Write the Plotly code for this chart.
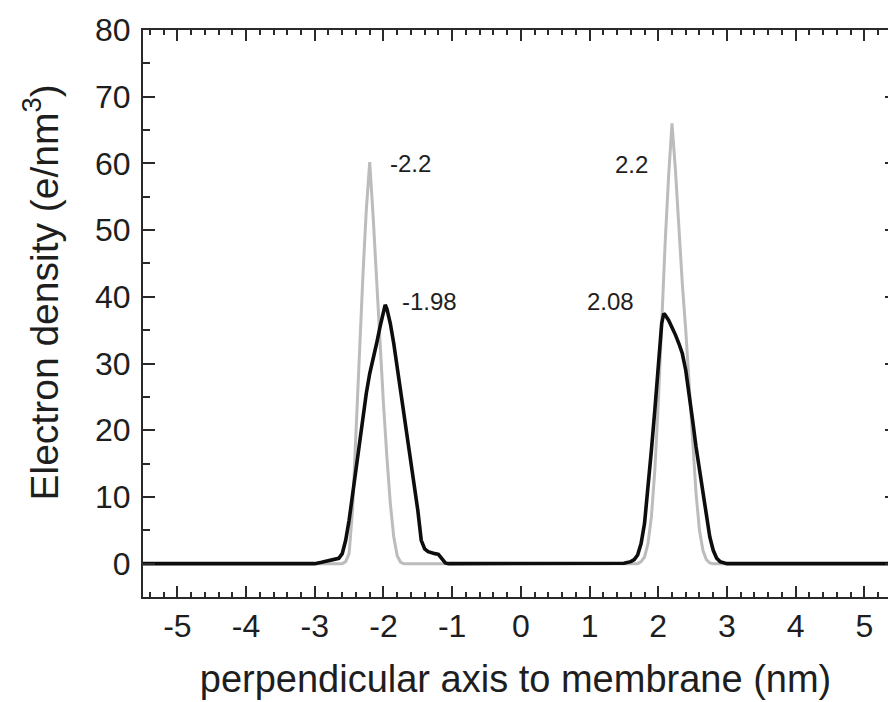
import plotly.graph_objects as go

# ---- data ----
gray_x = [-5.5, -2.60, -2.55, -2.50, -2.45, -2.40, -2.35, -2.30, -2.25, -2.20, -2.15, -2.10,
          -2.05, -2.00, -1.95, -1.90, -1.85, -1.80, -1.75, -1.70,
          1.70, 1.75, 1.80, 1.85, 1.90, 1.95, 2.00, 2.05, 2.10, 2.15, 2.20, 2.25, 2.30,
          2.35, 2.40, 2.45, 2.50, 2.55, 2.60, 2.65, 2.70, 2.75, 2.80, 5.5]
gray_y = [0, 0, 0.3, 1.5, 8, 20, 32, 43, 53, 60.2, 52, 42,
          33, 24, 16, 9, 4, 1.2, 0.2, 0,
          0, 0.3, 1, 3, 7, 14, 24, 37, 48, 58, 66, 59, 50,
          42, 35, 27, 18, 10.5, 5, 2, 0.6, 0.1, 0, 0]

black_x = [-5.5, -3.00, -2.90, -2.80, -2.70, -2.65, -2.60, -2.55, -2.50, -2.45, -2.40, -2.35,
           -2.30, -2.25, -2.20, -2.15, -2.10, -2.05, -2.00, -1.975, -1.95, -1.90, -1.85,
           -1.80, -1.75, -1.70, -1.65, -1.60, -1.55, -1.50, -1.45, -1.40, -1.35, -1.30,
           -1.25, -1.20, -1.15, -1.10, -1.05,
           1.40, 1.50, 1.60, 1.65, 1.70, 1.75, 1.80, 1.85, 1.90, 1.95, 2.00, 2.05, 2.08,
           2.10, 2.15, 2.20, 2.25, 2.30, 2.35, 2.40, 2.45, 2.50, 2.55, 2.60, 2.65, 2.70,
           2.75, 2.80, 2.85, 2.90, 2.95, 3.00, 5.5]
black_y = [0, 0, 0.2, 0.4, 0.6, 0.8, 1.5, 3.5, 6.5, 10.5, 14.5, 18.5,
           22, 25.5, 28.5, 30.5, 33, 35.5, 38, 38.8, 38.2, 36, 33,
           29.5, 26, 22.5, 19, 15.5, 12, 8, 3.5, 2.2, 1.8, 1.6,
           1.5, 1.4, 0.8, 0.1, 0,
           0, 0.05, 0.3, 0.6, 1.3, 3, 6, 11, 17, 23, 30, 36, 37.5,
           37.3, 36.5, 35.5, 34.3, 33, 31.5, 29, 25.5, 21.5, 17.5, 14, 10.5, 7,
           4, 2, 0.8, 0.3, 0.1, 0, 0]

x_tick_vals = [-5, -4, -3, -2, -1, 0, 1, 2, 3, 4, 5]
x_tick_text = ["-5", "-4", "-3", "-2", "-1", "0", "1", "2", "3", "4", "5"]
y_tick_vals = [0, 10, 20, 30, 40, 50, 60, 70, 80]
y_tick_text = ["0", "10", "20", "30", "40", "50", "60", "70", "80"]

peak_labels = ["-2.2", "-1.98", "2.2", "2.08"]
peak_label_x = [-1.93, -1.757, 1.88, 1.678]
peak_label_y = [60.0, 39.3, 59.9, 39.3]
peak_label_anchor = ["left", "left", "right", "right"]

FONT = "Liberation Sans, Arial, Helvetica, sans-serif"
AX = "#2a2a2a"
TXT = "#1e1e1e"

fig = go.Figure()
fig.add_trace(go.Scatter(x=gray_x, y=gray_y, mode="lines",
                         line=dict(color="#bcbcbc", width=3), showlegend=False))
fig.add_trace(go.Scatter(x=black_x, y=black_y, mode="lines",
                         line=dict(color="#0d0d0d", width=3.6), showlegend=False))
# invisible trace to keep the right-hand tick axis alive
fig.add_trace(go.Scatter(x=[0], y=[0], yaxis="y2", mode="markers",
                         marker=dict(opacity=0), showlegend=False, hoverinfo="skip"))

for t, x, y, a in zip(peak_labels, peak_label_x, peak_label_y, peak_label_anchor):
    fig.add_annotation(x=x, y=y, text=t, xanchor=a, yanchor="middle", showarrow=False,
                       font=dict(family=FONT, size=24, color=TXT))

fig.add_annotation(xref="paper", yref="paper", x=0, y=0.5, xshift=-102, yshift=21,
                   text="Electron density (e/nm<sup>3</sup>)", textangle=-90,
                   showarrow=False, xanchor="center", yanchor="middle",
                   font=dict(family=FONT, size=39, color=TXT))

fig.update_layout(
    width=888, height=702,
    margin=dict(l=143, r=0, t=30, b=105),
    paper_bgcolor="white", plot_bgcolor="white",
    font=dict(family=FONT, color=TXT),
    xaxis=dict(range=[-5.5, 5.344], tickmode="array", tickvals=x_tick_vals,
               ticktext=x_tick_text, ticks="inside", ticklen=11,
               tickwidth=2, tickcolor=AX, showline=True, linecolor=AX, linewidth=2,
               mirror="ticks", showgrid=False, zeroline=False,
               tickfont=dict(family=FONT, size=32, color=TXT),
               minor=dict(tick0=0, dtick=0.2, ticks="inside", ticklen=5, tickwidth=2,
                          tickcolor=AX),
               title=dict(text="perpendicular axis to membrane (nm)", standoff=22,
                          font=dict(family=FONT, size=38, color=TXT))),
    yaxis=dict(range=[-5, 80], tickmode="array", tickvals=y_tick_vals,
               ticktext=y_tick_text, ticks="inside", ticklen=12,
               tickwidth=2, tickcolor=AX, showline=True, linecolor=AX, linewidth=2,
               mirror=False, showgrid=False, zeroline=False, ticklabelstandoff=4,
               tickfont=dict(family=FONT, size=32, color=TXT),
               minor=dict(tick0=0, dtick=5, ticks="inside", ticklen=7, tickwidth=2,
                          tickcolor=AX)),
    yaxis2=dict(range=[-5, 80], overlaying="y", side="right", tick0=0, dtick=10,
                ticks="inside", ticklen=3, tickwidth=2, tickcolor=AX, showline=False,
                showgrid=False, zeroline=False, showticklabels=False),
)

fig.write_html("out.html")
